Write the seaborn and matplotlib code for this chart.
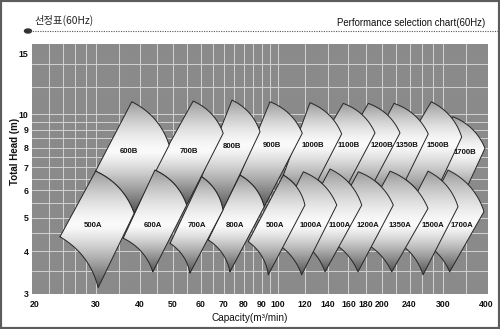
import numpy as np
import matplotlib
matplotlib.use("Agg")
import matplotlib.pyplot as plt
import seaborn as sns
from matplotlib.path import Path
from matplotlib.patches import PathPatch, Ellipse, Rectangle
from matplotlib.lines import Line2D
from matplotlib.ticker import NullLocator, FixedLocator

# ---------------- data (Capacity m3/min , Total head m) ----------------
a_labels = ["500A", "600A", "700A", "800A", "500A", "1000A", "1100A", "1200A", "1350A", "1500A", "1700A"]
a_left_q = [23.6, 35.9, 49.0, 63.1, 82.3, 95.1, 111.5, 135.2, 166.1, 215.1, 247.3]
a_left_h = [4.40, 4.36, 4.21, 4.31, 4.26, 4.31, 4.36, 4.36, 4.36, 4.31, 4.36]
a_top_q = [29.9, 44.3, 60.4, 77.9, 103.9, 118.6, 141.6, 170.9, 210.9, 271.3, 309.8]
a_top_h = [6.83, 6.88, 6.58, 6.65, 6.65, 6.80, 6.93, 6.80, 6.83, 6.83, 6.88]
a_right_q = [38.6, 54.7, 69.6, 91.5, 119.9, 148.1, 174.8, 215.5, 271.3, 331.1, 393.4]
a_right_h = [5.15, 5.44, 5.26, 5.38, 5.44, 5.44, 5.44, 5.44, 5.32, 5.38, 5.21]
a_bottom_q = [30.4, 43.7, 55.9, 72.9, 94.0, 117.3, 137.0, 170.5, 213.3, 262.5, 313.3]
a_bottom_h = [3.13, 3.48, 3.45, 3.48, 3.41, 3.41, 3.48, 3.48, 3.48, 3.41, 3.48]
a_label_q = [29.4, 43.7, 58.6, 75.4, 98.3, 124.8, 151.3, 182.6, 225.3, 281.0, 339.3]
a_label_h = [4.76, 4.76, 4.76, 4.76, 4.76, 4.76, 4.76, 4.76, 4.76, 4.76, 4.76]

b_labels = ["600B", "700B", "800B", "900B", "1000B", "1100B", "1200B", "1350B", "1500B", "1700B"]
b_left_q = [29.9, 44.3, 60.4, 77.9, 103.9, 118.6, 141.6, 170.9, 210.9, 271.3]
b_left_h = [6.83, 6.88, 6.58, 6.65, 6.65, 6.80, 6.93, 6.80, 6.83, 6.83]
b_top_q = [38.0, 57.1, 73.9, 95.1, 124.0, 154.6, 182.6, 216.5, 277.3, 320.2]
b_top_h = [10.87, 10.92, 10.99, 10.87, 10.80, 10.75, 10.75, 10.75, 10.87, 9.83]
b_right_q = [48.7, 69.7, 89.0, 117.8, 153.0, 190.9, 225.3, 271.8, 339.3, 396.0]
b_right_h = [8.13, 8.80, 8.89, 8.80, 8.76, 8.82, 8.82, 8.76, 8.58, 7.96]
b_bottom_q = [38.6, 54.7, 69.6, 91.5, 119.9, 148.1, 174.8, 215.5, 271.3, 331.1]
b_bottom_h = [5.15, 5.44, 5.26, 5.38, 5.44, 5.44, 5.44, 5.44, 5.32, 5.38]
b_label_q = [37.4, 55.6, 73.8, 96.2, 126.7, 159.9, 199.5, 235.6, 290.5, 346.8]
b_label_h = [7.78, 7.81, 8.04, 8.13, 8.13, 8.13, 8.13, 8.13, 8.13, 7.76]

x_ticks = [20, 30, 40, 50, 60, 70, 80, 90, 100, 120, 140, 160, 180, 200, 240, 300, 400]
y_ticks = [3, 4, 5, 6, 7, 8, 9, 10, 15]
grid_q = [22, 24, 26, 28, 30, 35, 40, 45, 50, 55, 60, 65, 70, 75, 80, 85, 90, 95, 100,
          120, 140, 160, 180, 200, 220, 240, 260, 280, 300, 350]
grid_h = [3.5, 4, 4.5, 5, 5.5, 6, 6.5, 7, 7.5, 8, 8.5, 9, 9.5, 10, 12, 14]

# ---------------- style ----------------
sns.set_theme(style="white")
plt.rcParams["font.family"] = ["Liberation Sans", "DejaVu Sans"]

fig = plt.figure(figsize=(5.0, 3.29), dpi=100)
fig.patch.set_facecolor("white")
ax = fig.add_axes([32 / 500, 1 - 294 / 329, 456 / 500, 250 / 329])
ax.set_xscale("log")
ax.set_yscale("log")
XLIM, YLIM = (19.6, 404), (3.0, 16.0)
ax.set_xlim(*XLIM)
ax.set_ylim(*YLIM)
ax.set_autoscale_on(False)
ax.set_facecolor("#8a8a8a")
for s in ax.spines.values():
    s.set_visible(False)

for q in grid_q:
    ax.axvline(q, color="#cfcfcf", lw=0.75, zorder=0.5)
for h in grid_h:
    ax.axhline(h, color="#cfcfcf", lw=0.75, zorder=0.5)


def arc(q0, h0, q1, h1, k=0.21, n=40):
    p0 = np.array([np.log10(q0), np.log10(h0)])
    p1 = np.array([np.log10(q1), np.log10(h1)])
    d = p1 - p0
    ln = np.hypot(*d)
    nrm = np.array([-d[1], d[0]]) / ln
    c = (p0 + p1) / 2 + k * ln * nrm
    t = np.linspace(0, 1, n)[:, None]
    pts = (1 - t) ** 2 * p0 + 2 * (1 - t) * t * c + t ** 2 * p1
    return 10 ** pts


to_axes = lambda p: ax.transAxes.inverted().transform(ax.transData.transform(p))


def draw_tile(Lq, Lh, Tq, Th, Rq, Rh, Bq, Bh, lab_h, z):
    pts = np.vstack([[[Lq, Lh]], arc(Tq, Th, Rq, Rh), arc(Lq, Lh, Bq, Bh)[::-1]])
    closed = np.vstack([pts, pts[:1]])
    patch = PathPatch(Path(closed, closed=True), transform=ax.transData,
                      facecolor="none", edgecolor="none", zorder=z)
    ax.add_patch(patch)
    ap = to_axes(pts)
    x0, x1 = ap[:, 0].min(), ap[:, 0].max()
    y0, y1 = ap[:, 1].min(), ap[:, 1].max()
    yl = to_axes([[Tq, lab_h]])[0, 1]
    ys = np.linspace(y0, y1, 300)
    vals = np.where(
        ys >= yl,
        0.98 - 0.38 * np.clip((ys - yl) / (y1 - yl), 0, 1) ** 1.5,
        0.98 - 0.66 * np.clip((yl - ys) / (yl - y0), 0, 1) ** 1.25,
    )
    img = np.repeat(vals[:, None], 4, axis=1)
    im = ax.imshow(img, extent=[x0, x1, y0, y1], transform=ax.transAxes,
                   origin="lower", aspect="auto", cmap="gray", vmin=0, vmax=1,
                   interpolation="bilinear", zorder=z)
    im.set_clip_path(patch)
    sns.lineplot(x=closed[:, 0], y=closed[:, 1], sort=False, estimator=None,
                 color="#262626", lw=0.7, ax=ax, zorder=z + 0.005, legend=False)


nb = len(b_labels)
for i in range(nb):
    draw_tile(b_left_q[i], b_left_h[i], b_top_q[i], b_top_h[i], b_right_q[i], b_right_h[i],
              b_bottom_q[i], b_bottom_h[i], b_label_h[i], 2 + (nb - i) * 0.02)
na = len(a_labels)
for i in range(na):
    draw_tile(a_left_q[i], a_left_h[i], a_top_q[i], a_top_h[i], a_right_q[i], a_right_h[i],
              a_bottom_q[i], a_bottom_h[i], a_label_h[i], 3 + (na - i) * 0.02)

for q, h, t in zip(a_label_q, a_label_h, a_labels):
    ax.text(q, h, t, ha="center", va="center", fontsize=5.6, fontweight="bold",
            color="#111111", zorder=10)
for q, h, t in zip(b_label_q, b_label_h, b_labels):
    ax.text(q, h, t, ha="center", va="center", fontsize=5.6, fontweight="bold",
            color="#111111", zorder=10)

ax.set_xlim(*XLIM)
ax.set_ylim(*YLIM)
ax.xaxis.set_major_locator(FixedLocator(x_ticks))
ax.yaxis.set_major_locator(FixedLocator(y_ticks))
ax.xaxis.set_minor_locator(NullLocator())
ax.yaxis.set_minor_locator(NullLocator())
ax.set_xticklabels([str(v) for v in x_ticks])
ax.set_yticklabels([str(v) for v in y_ticks])
ax.tick_params(axis="both", length=0, labelsize=6.3, colors="#111111")
ax.tick_params(axis="x", pad=4.5)
ax.tick_params(axis="y", pad=2.5)
for lbl in ax.get_xticklabels() + ax.get_yticklabels():
    lbl.set_fontweight("bold")
ax.set_xlabel("")
ax.set_ylabel("")
ax.grid(False)

fig.text(15 / 500, 1 - 151 / 329, "Total Head (m)", rotation=90, ha="center", va="center",
         fontsize=7, fontweight="bold", color="#111111")
fig.text(250 / 500, 1 - 318 / 329, "Capacity(m³/min)", ha="center", va="center",
         fontsize=7.2, color="#111111")

fig.text(35 / 500, 1 - 20 / 329, "선정표(60Hz)", ha="left", va="center", fontsize=7.4,
         family=["Noto Sans CJK KR", "DejaVu Sans"], color="#222222")
fig.text(485 / 500, 1 - 22.5 / 329, "Performance selection chart(60Hz)", ha="right",
         va="center", fontsize=6.9, color="#111111")
fig.add_artist(Line2D([30 / 500, 498 / 500], [1 - 31 / 329, 1 - 31 / 329],
                      transform=fig.transFigure, color="#555555", lw=0.8,
                      linestyle=(0, (1, 1.2))))
fig.add_artist(Ellipse((28 / 500, 1 - 31 / 329), 7 / 500, 4 / 329,
                       transform=fig.transFigure, color="#333333"))
fig.add_artist(Rectangle((0, 0), 1, 1, transform=fig.transFigure, fill=False,
                         edgecolor="#5c5c5c", lw=3))

fig.savefig("out.png", dpi=100)
